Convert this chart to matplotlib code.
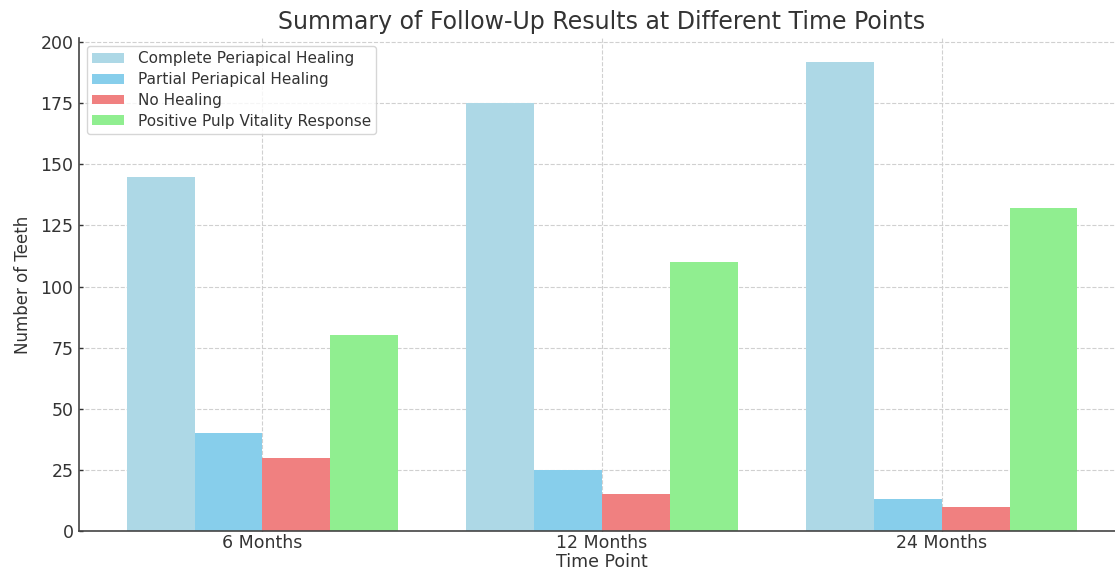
import matplotlib
matplotlib.use("Agg")
import matplotlib.pyplot as plt
import numpy as np

time_points = ["6 Months", "12 Months", "24 Months"]
complete_healing = [145, 175, 192]
partial_healing = [40, 25, 13]
no_healing = [30, 15, 10]
pulp_vitality = [80, 110, 132]

series = [
    ("Complete Periapical Healing", complete_healing, "lightblue"),
    ("Partial Periapical Healing", partial_healing, "skyblue"),
    ("No Healing", no_healing, "lightcoral"),
    ("Positive Pulp Vitality Response", pulp_vitality, "lightgreen"),
]

text_color = "#333333"
plt.rcParams["text.color"] = text_color
plt.rcParams["axes.labelcolor"] = text_color
plt.rcParams["xtick.color"] = text_color
plt.rcParams["ytick.color"] = text_color

fig = plt.figure(figsize=(11.15, 5.71), dpi=100)
ax = fig.add_axes([0.0709, 0.070, 1.009 - 0.0709, 0.933 - 0.070])

x = np.arange(len(time_points))
width = 0.2
for i, (label, values, color) in enumerate(series):
    ax.bar(x + (i - 1.5) * width, values, width, label=label, color=color, zorder=2)

ax.set_xlim(-0.54, 2.54)
ax.set_ylim(0, 201.6)
ax.set_xticks(x)
ax.set_xticklabels(time_points, fontsize=12.5)
ax.set_yticks(np.arange(0, 201, 25))
ax.tick_params(axis="y", labelsize=12.5, pad=4)
ax.tick_params(axis="x", pad=2)
ax.tick_params(direction="in", length=3, width=1)

ax.set_title("Summary of Follow-Up Results at Different Time Points", fontsize=17, pad=7)
ax.set_xlabel("Time Point", fontsize=12.5, labelpad=1)
ax.set_ylabel("Number of Teeth", fontsize=12, labelpad=6)

ax.grid(True, linestyle="--", color="#d0d0d0", linewidth=0.8, zorder=0)
ax.set_axisbelow(True)
for side in ("top", "right"):
    ax.spines[side].set_visible(False)
for side in ("left", "bottom"):
    ax.spines[side].set_color("#444444")
    ax.spines[side].set_linewidth(1.2)

ax.legend(loc="upper left", fontsize=11, frameon=True, fancybox=True,
          edgecolor="#cccccc", borderpad=0.35, handlelength=2.1, handleheight=0.6,
          labelspacing=0.38, handletextpad=0.9, borderaxespad=0.5)

fig.savefig("out.png", dpi=100)
